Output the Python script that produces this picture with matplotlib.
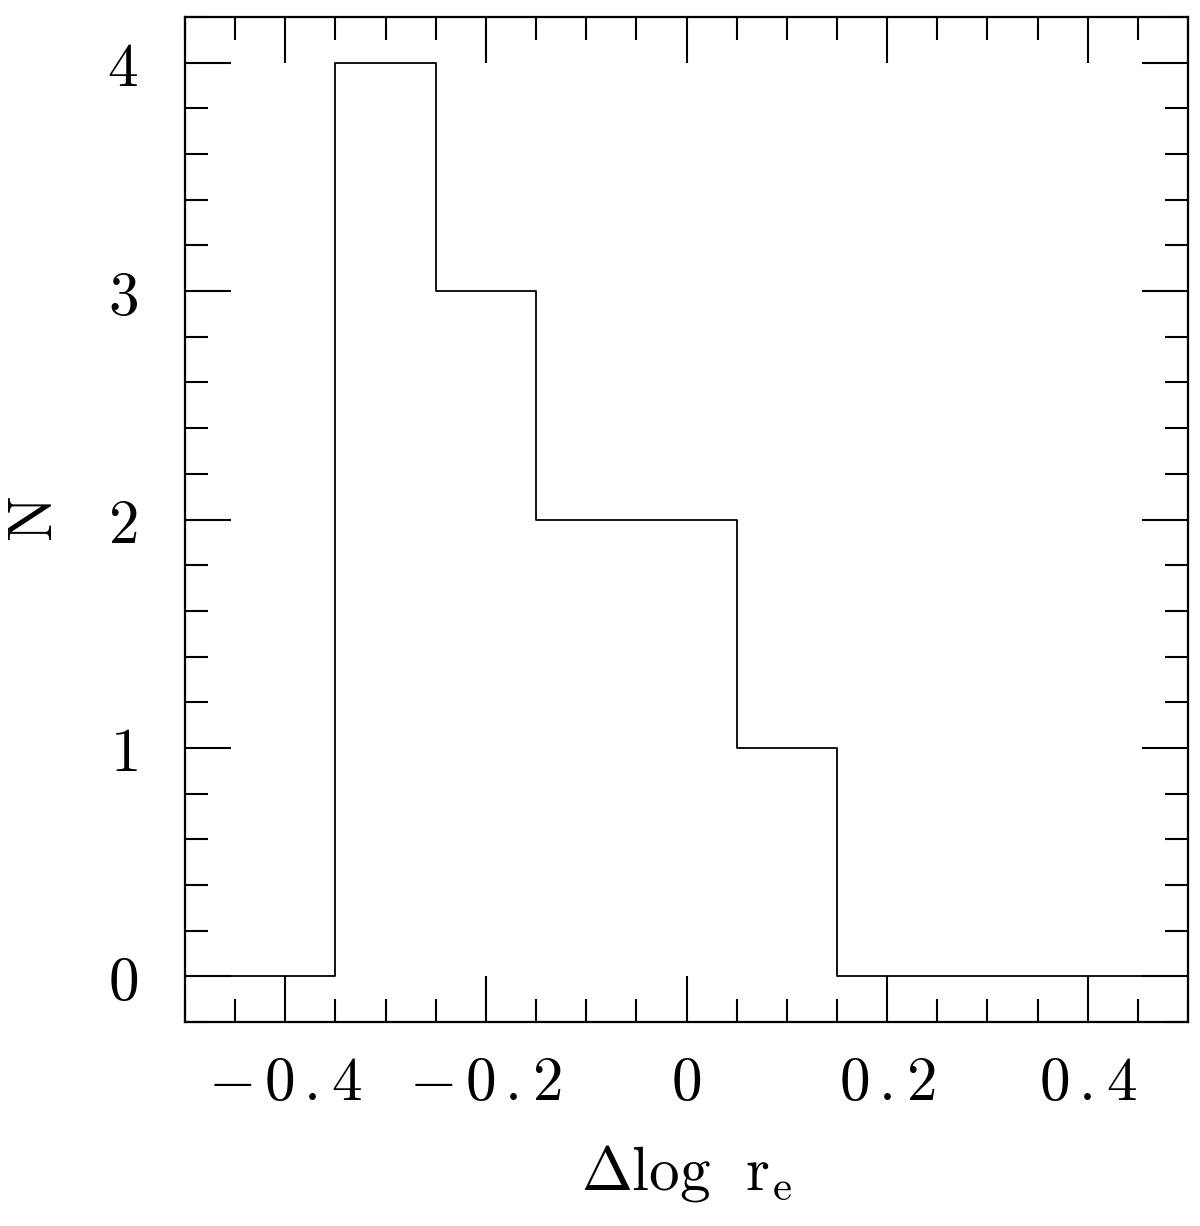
import matplotlib
matplotlib.use("Agg")
import matplotlib.pyplot as plt
from matplotlib.ticker import MultipleLocator, FuncFormatter

# histogram of delta log r_e (bin centres, counts)
bin_centers = [-0.5, -0.4, -0.3, -0.2, -0.1, 0.0, 0.1, 0.2, 0.3, 0.4, 0.5]
counts = [0, 0, 4, 3, 2, 2, 1, 0, 0, 0, 0]

plt.rcParams["mathtext.fontset"] = "cm"
plt.rcParams["font.family"] = "serif"
plt.rcParams["font.serif"] = ["DejaVu Serif"]

fig = plt.figure(figsize=(12, 12.26), dpi=100)
ax = fig.add_axes([185 / 1200, 1 - 1022 / 1226, 1003 / 1200, 1005 / 1226])

ax.step(bin_centers, counts, where="mid", color="black", linewidth=1.3)

ax.set_xlim(-0.5, 0.5)
ax.set_ylim(-0.2, 4.2)

ax.xaxis.set_major_locator(MultipleLocator(0.2))
ax.xaxis.set_minor_locator(MultipleLocator(0.05))
ax.yaxis.set_major_locator(MultipleLocator(1))
ax.yaxis.set_minor_locator(MultipleLocator(0.2))


def fmt(v, pos):
    if abs(v) < 1e-9:
        return r"$0$"
    s = f"{v:.1f}".replace("-", r"-\,")
    return "$" + s.replace(".", r"\,.") + "$"


ax.xaxis.set_major_formatter(FuncFormatter(fmt))
ax.yaxis.set_major_formatter(FuncFormatter(lambda v, p: f"${int(round(v))}$"))

ax.tick_params(which="both", direction="in", top=True, right=True,
               width=1.5, labelsize=44)
ax.tick_params(which="major", length=33, pad=22)
ax.tick_params(which="minor", length=16.5)
ax.tick_params(axis="y", which="major", pad=34)
for sp in ax.spines.values():
    sp.set_linewidth(1.6)

ax.set_xlabel(r"$\Delta\mathrm{log}\ \ \mathrm{r}_\mathrm{e}$", fontsize=44, labelpad=22)
ax.set_ylabel(r"$\mathrm{N}$", fontsize=44, rotation=90, va="center", ha="center")
ax.yaxis.set_label_coords(-0.15, 0.5)

fig.savefig("out.png", dpi=100)
